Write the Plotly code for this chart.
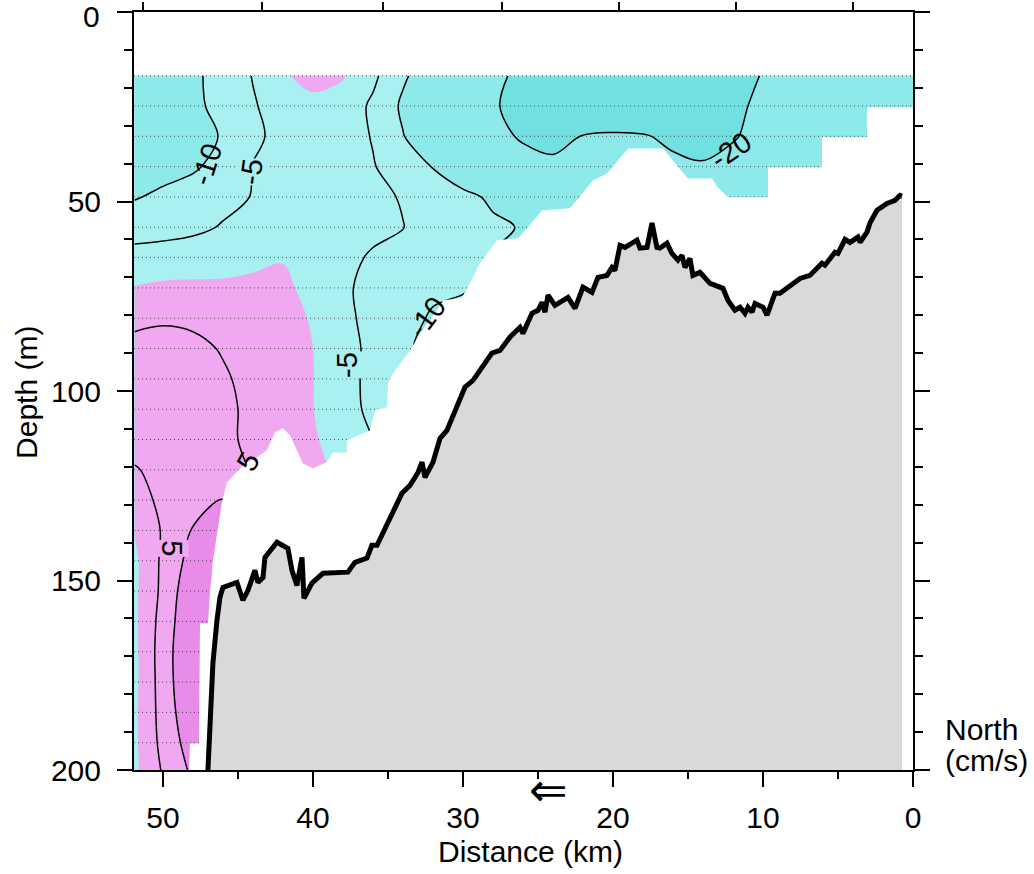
import plotly.graph_objects as go

# ---------------- data ----------------
dist_km = [51.9, 50, 48, 46, 44, 42, 40, 38, 36, 34, 32, 30, 28, 26, 24, 22, 20, 18, 16, 14, 12, 10, 8, 6, 4, 2, 0]
bin_depth_m = [16.8, 24.8, 32.8, 40.8, 48.8, 56.8, 64.8, 72.8, 80.8, 88.8, 96.8, 104.8, 112.8, 120.8,
               128.8, 136.8, 144.8, 152.8, 160.8, 168.8, 176.8, 184.8, 192.8, 200]

# northward velocity (cm/s); one row per depth, columns follow dist_km
north_velocity = [
    [-13, -12.5, -11, -8, -4.8, -0.6, 1.8, 0.4, -4.0, -9.3, -13, -16, -18.5, -21.5, -23, -24, -24.5, -24, -23.5, -23, -21.5, -19.8, -17, -16, -15, -14.5, -14],
    [-13, -12.5, -11, -8.6, -5.4, -3, -1.5, -2.2, -5.8, -10.8, -14, -17, -19.4, -22, -24, -25, -25.5, -25, -24.5, -23.5, -21, -19, -17, -16, -15, -14.5, -14],
    [-12.5, -12, -11, -9.8, -6, -3.5, -2, -2.6, -5.3, -9.8, -13.5, -16, -18.5, -20.6, -21.5, -19.8, -19.2, -19.6, -21, -22, -20.5, -18, -16, -15, -14.5, -14, -14],
    [-12, -11.5, -10.6, -8.5, -4.8, -3, -2.5, -3, -4.7, -7.5, -10.2, -13.5, -16, -18, -19, -19, -18.5, -18.5, -19, -19.5, -18, -16.5, -15.5, -15, -14.5, -14, -14],
    [-10.3, -9.2, -8, -6.5, -4.8, -3.2, -2.5, -3, -4, -5.3, -7, -8.8, -10.8, -13, -15, -16, -16.5, -17, -17, -17, -16.5, -16, -15.5, -15, -14.5, -14, -14],
    [-7.5, -7, -6.2, -4.6, -3.5, -2.5, -2.2, -2.8, -3.8, -4.9, -6.5, -8, -9.2, -10.3, -12, -14, -15, -15, -15, -15, -15, -15, -15, -15, -14.5, -14, -14],
    [-3, -2.6, -2, -1.8, -1.2, -0.2, -1.5, -3.6, -5.6, -7, -8, -9, -10.3, -12, -13, -14, -15, -15, -15, -15, -15, -15, -15, -15, -14.5, -14, -14],
    [0.2, 0.8, 0.8, 0.8, 1.2, 0.8, -1.2, -4.2, -6.5, -8.5, -9.2, -9.6, -11, -12.5, -13.5, -14, -15, -15, -15, -15, -15, -15, -15, -15, -14.5, -14, -14],
    [4.2, 4.5, 4.2, 3.8, 3.5, 2.5, -0.6, -3.8, -6.5, -8.5, -10.5, -11.5, -12.5, -13, -14, -14, -15, -15, -15, -15, -15, -15, -15, -15, -14.5, -14, -14],
    [6, 6.5, 6, 4.7, 3.5, 2.3, 0, -3.5, -6, -9.5, -11, -12, -13, -13.5, -14, -14, -15, -15, -15, -15, -15, -15, -15, -15, -14.5, -14, -14],
    [7, 7.5, 7, 5.5, 3.8, 2.3, 0.1, -3, -6.5, -9, -11, -12, -13, -13.5, -14, -14, -15, -15, -15, -15, -15, -15, -15, -15, -14.5, -14, -14],
    [8, 8.5, 8, 6.5, 3.5, 2.2, 0.1, -3, -6.2, -8.5, -10.5, -12, -13, -13.5, -14, -14, -15, -15, -15, -15, -15, -15, -15, -15, -14.5, -14, -14],
    [7, 8.5, 8.5, 6.5, 3.5, 2.5, 0.5, -2, -5, -8, -10, -11.5, -12.5, -13, -14, -14, -15, -15, -15, -15, -15, -15, -15, -15, -14.5, -14, -14],
    [4.6, 6.5, 8.5, 8, 4.5, 3, 1, -1, -4, -7, -9, -11, -12, -13, -14, -14, -15, -15, -15, -15, -15, -15, -15, -15, -14.5, -14, -14],
    [3.5, 5.8, 8.5, 10.2, 6, 3, 1, -1, -4, -7, -9, -11, -12, -13, -14, -14, -15, -15, -15, -15, -15, -15, -15, -15, -14.5, -14, -14],
    [0.3, 5.5, 10.3, 11, 7, 4, 2, 0, -3, -6, -8, -10, -12, -13, -14, -14, -15, -15, -15, -15, -15, -15, -15, -15, -14.5, -14, -14],
    [-1, 6, 12, 12, 8, 5, 3, 1, -2, -5, -7, -9, -11, -12, -13, -14, -15, -15, -15, -15, -15, -15, -15, -15, -14.5, -14, -14],
    [-1, 6.2, 14, 12.5, 8, 5, 3, 1, -2, -5, -7, -9, -11, -12, -13, -14, -15, -15, -15, -15, -15, -15, -15, -15, -14.5, -14, -14],
    [-1, 7, 14.5, 13, 8, 5, 3, 1, -2, -5, -7, -9, -11, -12, -13, -14, -15, -15, -15, -15, -15, -15, -15, -15, -14.5, -14, -14],
    [-1.2, 7.5, 15, 13, 8, 5, 3, 1, -2, -5, -7, -9, -11, -12, -13, -14, -15, -15, -15, -15, -15, -15, -15, -15, -14.5, -14, -14],
    [-1.2, 7.3, 15, 13, 8, 5, 3, 1, -2, -5, -7, -9, -11, -12, -13, -14, -15, -15, -15, -15, -15, -15, -15, -15, -14.5, -14, -14],
    [-1, 7, 14, 12, 8, 5, 3, 1, -2, -5, -7, -9, -11, -12, -13, -14, -15, -15, -15, -15, -15, -15, -15, -15, -14.5, -14, -14],
    [-1, 6.5, 12.5, 11, 8, 5, 3, 1, -2, -5, -7, -9, -11, -12, -13, -14, -15, -15, -15, -15, -15, -15, -15, -15, -14.5, -14, -14],
    [-1, 5.5, 11, 10, 8, 5, 3, 1, -2, -5, -7, -9, -11, -12, -13, -14, -15, -15, -15, -15, -15, -15, -15, -15, -14.5, -14, -14],
]

# lower edge of valid current data
coverage_km = [48.27, 48.2, 47.6, 47.53, 47.0, 46.87, 46.67, 46.33, 46.07, 45.73, 44.53, 43.73, 43.07, 42.53,
               42.0, 41.53, 41.07, 40.67, 40.0, 39.07, 38.67, 37.73, 37.73, 36.2, 35.87, 35.07, 35.0, 34.67,
               33.87, 33.53, 32.87, 31.73, 31.33, 30.07, 29.33, 28.87, 27.73, 26.33, 25.67, 24.73, 22.87,
               21.33, 20.4, 19.0, 16.67, 15.0, 13.4, 13.0, 12.33, 9.67, 9.67, 6.07, 6.07, 3.07, 3.07, 0.07]
coverage_depth = [200, 193, 193, 161.3, 161.3, 153.4, 144.7, 136, 129.4, 124.1, 119.1, 117.5, 115.6, 110.9,
                  109.8, 111.7, 115.6, 119.1, 120.4, 118.8, 116.2, 116.2, 113, 110.4, 105.1, 104.3, 98, 95.3,
                  91.1, 89.3, 84.8, 78.7, 76.1, 75.3, 70, 66.3, 60.2, 59.7, 56.8, 52.3, 51.8,
                  44.4, 42.6, 36, 36, 43.9, 43.9, 46.3, 48.9, 48.9, 41, 41, 33, 33, 25.1, 25.1]

# bottom topography
bathy_km = [47.0, 46.67, 46.4, 46.2, 46.0, 45.07, 44.67, 44.33, 43.87, 43.67, 43.33, 43.2, 42.4, 41.67, 41.4,
            41.07, 40.73, 40.6, 40.07, 39.33, 37.67, 37.2, 36.4, 36.07, 35.73, 35.2, 34.67, 34.07, 33.53, 33.0,
            32.73, 32.53, 32.0, 31.53, 31.07, 30.4, 29.87, 29.33, 28.87, 28.07, 27.53, 26.87, 26.2, 26.0, 25.4,
            25.0, 24.73, 24.53, 24.33, 23.87, 23.0, 22.53, 22.0, 21.73, 21.4, 21.0, 20.4, 20.07, 19.87, 19.53,
            19.2, 18.4, 18.2, 17.73, 17.4, 17.07, 16.87, 16.4, 16.07, 15.67, 15.4, 15.2, 14.87, 14.67, 14.2,
            13.53, 12.67, 12.33, 11.87, 11.53, 11.2, 11.0, 10.73, 10.53, 10.0, 9.73, 9.2, 8.87, 7.53, 6.87,
            6.07, 5.87, 5.2, 5.0, 4.53, 4.2, 3.67, 3.53, 3.07, 2.87, 2.4, 1.73, 1.2, 0.87, 0.73]
bathy_depth = [200, 171.8, 160.5, 154.4, 151.8, 150.5, 155.2, 152.6, 147.3, 150.5, 149.2, 143.9, 139.9, 141.5,
               147.3, 151.3, 143.9, 154.7, 150.7, 148.1, 147.8, 145.2, 144.1, 140.7, 140.7, 136.2, 131.5, 127,
               124.9, 121.5, 118.8, 122.8, 118.8, 112.5, 110.4, 104.3, 99, 97.2, 94.5, 90, 89.3, 85.8, 83.2,
               84.8, 79.5, 78.7, 76.6, 79.2, 74.7, 77.4, 75.3, 78.2, 72.6, 73.4, 74, 70, 69.5, 67.4, 68.2, 61.6,
               62.1, 60.2, 62.3, 62.1, 55.7, 62.1, 62.3, 61, 63.7, 65.5, 64.2, 67.4, 65, 69.5, 68.7, 71.6, 72.9,
               76.1, 78.7, 77.9, 79.5, 77.9, 79.2, 76.9, 77.9, 80, 74.2, 74.2, 70.3, 69.5, 66.3, 66.8, 63.4,
               63.7, 60, 60.8, 59.4, 60.8, 58.1, 55.7, 52.3, 50.5, 49.7, 48.4, 48.6]

station_km = [51.3, 43.4, 35.3, 27.4, 19.6, 11.8, 4.0]

depth_ticks = [0, 50, 100, 150, 200]
depth_tick_text = ["", "50", "100", "150", "200"]   # the "0" is placed as a text below to keep it inside the page
dist_ticks = [0, 10, 20, 30, 40, 50]

label_text = ["-10", "-5", "-5", "-10", "-20", "5", "5"]
label_km = [47.1, 44.1, 37.7, 32.4, 12.1, 49.4, 44.3]
label_depth = [40.0, 42.0, 93.0, 80.5, 36.5, 141.5, 118.5]
label_angle = [-72, -82, -90, -53, -34, 90, -60]
label_bg = ["rgba(0,0,0,0)", "#A9F1F0", "#A9F1F0", "rgba(0,0,0,0)", "rgba(0,0,0,0)", "#F0A8F0", "rgba(0,0,0,0)"]

x_range = [51.93, 0]
FONT = "Liberation Sans, Arial, Helvetica, sans-serif"

DARK_CYAN = "#70E1E0"
MID_CYAN = "#8EEAEA"
LIGHT_CYAN = "#A9F1F0"
LIGHT_PINK = "#F0A8F0"
DARK_PINK = "#E98BE9"
colorscale = [[0, DARK_CYAN], [0.2, DARK_CYAN], [0.2, MID_CYAN], [0.4, MID_CYAN],
              [0.4, LIGHT_CYAN], [0.6, LIGHT_CYAN], [0.6, LIGHT_PINK], [0.8, LIGHT_PINK],
              [0.8, DARK_PINK], [1, DARK_PINK]]

fig = go.Figure()

# filled bands every 10 cm/s
fig.add_trace(go.Contour(
    x=dist_km, y=bin_depth_m, z=north_velocity,
    colorscale=colorscale, zmin=-30, zmax=20, zauto=False,
    autocontour=False,
    contours=dict(start=-30, end=20, size=10, coloring="fill", showlines=False),
    line=dict(width=0, smoothing=1),
    showscale=False, hoverinfo="skip"))

# black contour lines (-20, -10, -5, 5, 10)
for s, e, sz in [(-20, -10, 10), (-5, 5, 10), (10, 25, 20)]:
    fig.add_trace(go.Contour(
        x=dist_km, y=bin_depth_m, z=north_velocity,
        autocontour=False,
        contours=dict(start=s, end=e, size=sz, coloring="none"),
        line=dict(color="black", width=1.5, smoothing=1),
        showscale=False, hoverinfo="skip"))

# dotted bin lines
bx, by = [], []
for d in bin_depth_m[:-1]:
    bx += [x_range[0], x_range[1], None]
    by += [d, d, None]
fig.add_trace(go.Scatter(x=bx, y=by, mode="lines", opacity=0.75,
                         line=dict(color="#222222", width=1, dash="1px,3px"),
                         hoverinfo="skip"))

# white mask below data coverage
fig.add_trace(go.Scatter(
    x=coverage_km + [-1, -1, coverage_km[0]],
    y=coverage_depth + [coverage_depth[-1], 206, 206],
    mode="lines", fill="toself", fillcolor="white",
    line=dict(width=0, color="white"), hoverinfo="skip"))

# gray bottom
fig.add_trace(go.Scatter(
    x=bathy_km + [bathy_km[-1], bathy_km[0]],
    y=bathy_depth + [200, 200],
    mode="lines", fill="toself", fillcolor="#D9D9D9",
    line=dict(width=0, color="#D9D9D9"), hoverinfo="skip"))

# bottom outline
fig.add_trace(go.Scatter(x=bathy_km, y=bathy_depth, mode="lines",
                         line=dict(color="black", width=5), hoverinfo="skip"))

# dummy trace for top station axis
fig.add_trace(go.Scatter(x=[station_km[0], station_km[-1]], y=[0, 0], xaxis="x2", yaxis="y",
                         mode="markers", marker=dict(size=1, opacity=0), hoverinfo="skip"))

annotations = []
for t, xk, yd, ang, bg in zip(label_text, label_km, label_depth, label_angle, label_bg):
    annotations.append(dict(x=xk, y=yd, xref="x", yref="y", text=t, showarrow=False,
                            textangle=ang, bgcolor=bg, borderpad=0,
                            font=dict(family=FONT, size=29, color="black")))

annotations += [
    dict(x=-0.0411, y=0.9945, xref="paper", yref="paper", text="0", showarrow=False,
         xanchor="right", yanchor="middle", font=dict(family=FONT, size=30, color="black")),
    dict(x=0.5096, y=-0.107, xref="paper", yref="paper", text="Distance (km)", showarrow=False,
         xanchor="center", yanchor="middle", font=dict(family=FONT, size=30, color="black")),
    dict(x=-0.1374, y=0.4987, xref="paper", yref="paper", text="Depth (m)", showarrow=False,
         textangle=-90, xanchor="center", yanchor="middle", font=dict(family=FONT, size=30, color="black")),
    dict(x=1.039, y=0.054, xref="paper", yref="paper", text="North", showarrow=False,
         xanchor="left", yanchor="middle", font=dict(family=FONT, size=30, color="black")),
    dict(x=1.039, y=0.013, xref="paper", yref="paper", text="(cm/s)", showarrow=False,
         xanchor="left", yanchor="middle", font=dict(family=FONT, size=30, color="black")),
    dict(x=0.5327, y=-0.027, xref="paper", yref="paper", text="\u21d0", showarrow=False,
         xanchor="center", yanchor="middle", font=dict(family="DejaVu Sans", size=46, color="black")),
]

fig.update_layout(
    width=1034, height=874,
    margin=dict(l=134, r=121, t=12, b=104, autoexpand=False),
    paper_bgcolor="white", plot_bgcolor="white",
    showlegend=False,
    font=dict(family=FONT, size=30, color="black"),
    xaxis=dict(range=x_range, autorange=False, tickvals=dist_ticks,
               ticks="outside", ticklen=15, tickwidth=1.5, tickcolor="black",
               showline=True, linewidth=2, linecolor="black", mirror=True,
               showgrid=False, zeroline=False, automargin=False,
               ticklabeloverflow="allow", ticklabelstandoff=5,
               tickfont=dict(family=FONT, size=30, color="black"),
               minor=dict(tickvals=[5, 15, 25, 35, 45], ticks="outside", ticklen=7,
                          tickwidth=1.5, tickcolor="black", showgrid=False)),
    xaxis2=dict(range=x_range, autorange=False, overlaying="x", side="top", anchor="y",
                tickvals=station_km, ticks="outside", ticklen=9, tickwidth=1.5, tickcolor="black",
                showticklabels=False, showline=False, showgrid=False, zeroline=False, automargin=False),
    yaxis=dict(range=[200, 0], autorange=False, tickvals=depth_ticks, ticktext=depth_tick_text,
               ticks="outside", ticklen=15, tickwidth=1.5, tickcolor="black",
               showline=True, linewidth=2, linecolor="black", mirror="ticks",
               showgrid=False, zeroline=False, automargin=False,
               ticklabeloverflow="allow", ticklabelstandoff=10,
               tickfont=dict(family=FONT, size=30, color="black"),
               minor=dict(tick0=0, dtick=10, ticks="outside", ticklen=8,
                          tickwidth=1.5, tickcolor="black", showgrid=False)),
    annotations=annotations,
)

fig.write_html("out.html")
